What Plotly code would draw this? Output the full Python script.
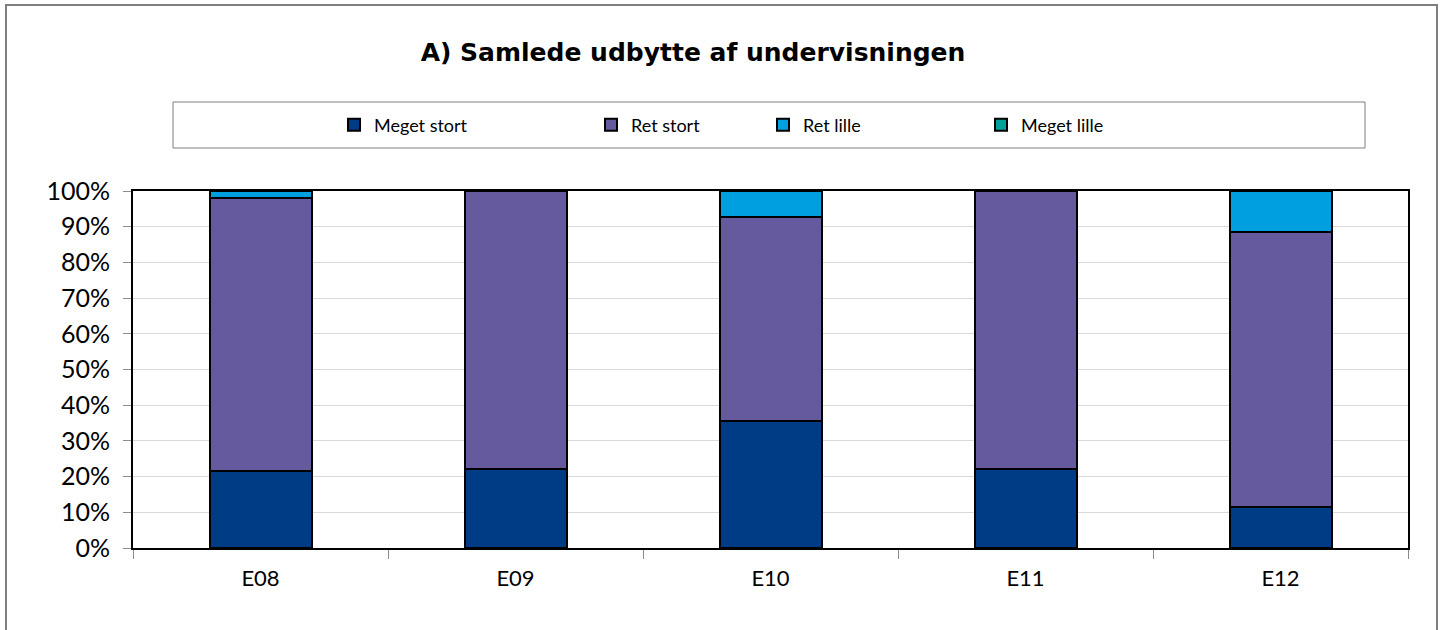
import plotly.graph_objects as go

categories = ["E08", "E09", "E10", "E11", "E12"]
series_names = ["Meget stort", "Ret stort", "Ret lille", "Meget lille"]
meget_stort = [21.6, 22.2, 35.7, 22.2, 11.5]
ret_stort = [76.4, 77.8, 57.1, 77.8, 77.0]
ret_lille = [2.0, 0.0, 7.2, 0.0, 11.5]
meget_lille = [0.0, 0.0, 0.0, 0.0, 0.0]
colors = ["#003C85", "#655A9E", "#009FDF", "#00A29A"]
y_ticks = [0, 10, 20, 30, 40, 50, 60, 70, 80, 90, 100]
y_tick_labels = [f"{v}%" for v in y_ticks]
title_text = "A) Samlede udbytte af undervisningen"

FONT = "Lato, Century Gothic, DejaVu Sans, sans-serif"
TITLE_FONT = "DejaVu Sans, sans-serif"

W, H = 1445, 630
L, R, T, B = 133, 37, 191, 82
pw = W - L - R
ph = H - T - B

def px_x(px):
    return (px - L) / pw

def px_y(py):
    return (H - B - py) / ph

legend_keys = ["legend", "legend2", "legend3", "legend4"]
legend_marker_px = [347, 604, 776, 994]

fig = go.Figure()
for name, vals, col, lk in zip(series_names, [meget_stort, ret_stort, ret_lille, meget_lille], colors, legend_keys):
    fig.add_trace(go.Bar(
        x=categories, y=vals, name=name, legend=lk,
        marker=dict(color=col, line=dict(color="black", width=2)),
        width=0.4,
    ))

shapes = [
    dict(type="rect", xref="paper", yref="paper",
         x0=px_x(6), x1=px_x(1437), y0=px_y(640), y1=px_y(5),
         line=dict(color="#7f7f7f", width=2), layer="below"),
    dict(type="rect", xref="paper", yref="paper",
         x0=px_x(173), x1=px_x(1365), y0=px_y(148), y1=px_y(102),
         line=dict(color="#7f7f7f", width=1), layer="below"),
]

legend_layout = {}
for lk, mx in zip(legend_keys, legend_marker_px):
    legend_layout[lk] = dict(
        orientation="h", x=px_x(mx - 13), xanchor="left",
        y=px_y(125), yanchor="middle",
        itemclick=False, font=dict(family=FONT, size=18, color="black"),
        bgcolor="rgba(0,0,0,0)",
    )

fig.update_layout(
    width=W, height=H,
    margin=dict(l=L, r=R, t=T, b=B),
    paper_bgcolor="white", plot_bgcolor="white",
    barmode="stack",
    font=dict(family=FONT, size=20, color="black"),
    title=dict(text="<b>" + title_text + "</b>", xref="container", x=693 / W, xanchor="center",
               y=1 - 52 / H, yanchor="middle",
               font=dict(family=TITLE_FONT, size=25, color="black")),
    showlegend=True,
    shapes=shapes,
    xaxis=dict(showline=True, linecolor="black", linewidth=2, mirror=True,
               ticks="outside", tickson="boundaries", ticklen=9, tickcolor="#8c8c8c",
               tickfont=dict(size=22), showgrid=False, ticklabelstandoff=10),
    yaxis=dict(range=[0, 100], tickvals=y_ticks, ticktext=y_tick_labels,
               showline=True, linecolor="black", linewidth=2, mirror=True,
               ticks="outside", ticklen=8, tickcolor="#8c8c8c",
               showgrid=True, gridcolor="#d9d9d9", gridwidth=1,
               tickfont=dict(size=25), zeroline=False, ticklabelstandoff=8),
    **legend_layout,
)

fig.write_html("out.html", config={"displayModeBar": False},
               post_script="document.body.style.margin='0';document.body.style.overflow='hidden';")
